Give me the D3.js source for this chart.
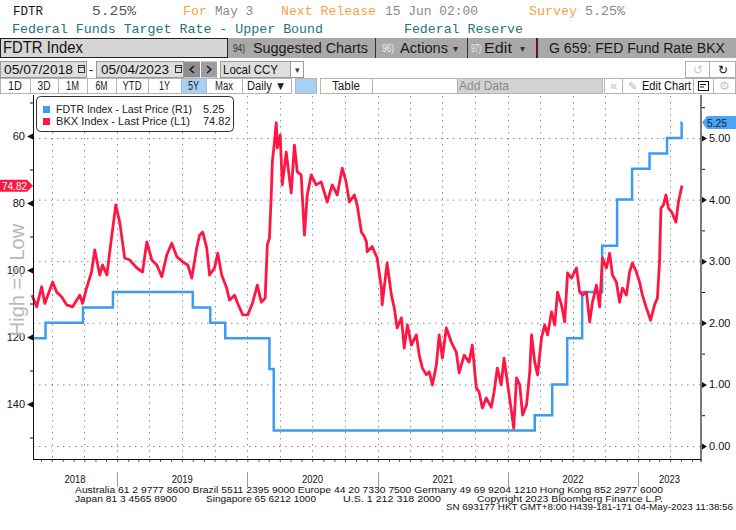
<!DOCTYPE html>
<html>
<head>
<meta charset="utf-8">
<script src="https://cdn.jsdelivr.net/npm/d3@7"></script>
<style>
  body { margin: 0; background: white; }
  svg { display: block; }
  text { font-family: "Liberation Sans", Arial, sans-serif; }
  .mono { font-family: "Liberation Mono", "DejaVu Sans Mono", monospace; font-size: 13px; }
</style>
</head>
<body>
<svg id="chart" width="736" height="530"></svg>
<script>

  // FDTR upper bound, step changes (R1 axis)
  const fdtr = [
    ["2018-05-07", 1.75], ["2018-06-14", 2.00], ["2018-09-27", 2.25], ["2018-12-20", 2.50],
    ["2019-08-01", 2.25], ["2019-09-19", 2.00], ["2019-10-31", 1.75], ["2020-03-03", 1.25],
    ["2020-03-15", 0.25], ["2022-03-17", 0.50], ["2022-05-05", 1.00], ["2022-06-16", 1.75],
    ["2022-07-28", 2.50], ["2022-09-22", 3.25], ["2022-11-03", 4.00], ["2022-12-15", 4.50],
    ["2023-02-02", 4.75], ["2023-03-23", 5.00], ["2023-05-03", 5.25], ["2023-05-04", 5.25]
  ]

  // BKX index (L1 axis, inverted)
  const bkx = [
    ["2018-05-07", 107.5], ["2018-05-20", 111], ["2018-06-03", 105], ["2018-06-12", 110],
    ["2018-07-04", 103.6], ["2018-07-15", 106.6], ["2018-07-29", 108], ["2018-08-12", 110.4],
    ["2018-08-29", 111], ["2018-09-18", 107.5], ["2018-09-26", 110], ["2018-10-07", 105.4],
    ["2018-10-21", 100.6], ["2018-10-30", 94], ["2018-11-13", 101.5], ["2018-11-21", 98.5],
    ["2018-12-03", 101.5], ["2018-12-17", 89.6], ["2018-12-28", 80.6], ["2019-01-08", 85.7],
    ["2019-01-22", 96.4], ["2019-02-05", 97], ["2019-02-25", 99.4], ["2019-03-13", 100.6],
    ["2019-03-25", 91.6], ["2019-04-08", 97], ["2019-04-22", 98.5], ["2019-05-06", 102],
    ["2019-05-20", 95.5], ["2019-06-03", 92], ["2019-06-17", 96], ["2019-07-04", 97.6],
    ["2019-07-18", 98.5], ["2019-07-29", 102.4], ["2019-08-12", 93.4], ["2019-08-20", 89.6],
    ["2019-08-29", 88.7], ["2019-09-09", 93.4], ["2019-09-17", 101.5], ["2019-10-01", 99.4],
    ["2019-10-10", 95], ["2019-10-21", 101.5], ["2019-11-04", 105.4], ["2019-11-12", 109],
    ["2019-11-26", 107.5], ["2019-12-05", 110], ["2019-12-19", 113.4], ["2020-01-02", 113.4],
    ["2020-01-15", 110], ["2020-01-29", 104.5], ["2020-02-09", 109.6], ["2020-02-20", 108.4],
    ["2020-02-26", 92.5], ["2020-03-03", 90.4], ["2020-03-08", 77.6], ["2020-03-11", 67.8],
    ["2020-03-17", 61.8], ["2020-03-22", 56], ["2020-03-25", 63.6], ["2020-04-02", 59.7],
    ["2020-04-08", 74.6], ["2020-04-19", 64.8], ["2020-05-03", 77], ["2020-05-12", 62.7],
    ["2020-05-20", 70.7], ["2020-05-31", 71.6], ["2020-06-09", 89.6], ["2020-06-17", 77.6],
    ["2020-06-28", 71.6], ["2020-07-12", 74.6], ["2020-07-26", 73.7], ["2020-08-12", 79.7],
    ["2020-08-26", 74.6], ["2020-09-09", 77.6], ["2020-09-23", 69.6], ["2020-10-04", 73.7],
    ["2020-10-13", 79.7], ["2020-10-27", 77.6], ["2020-11-04", 80.6], ["2020-11-16", 88.7],
    ["2020-11-24", 90], ["2020-11-30", 91.6], ["2020-12-02", 94.6], ["2020-12-16", 93],
    ["2020-12-30", 96.4], ["2021-01-11", 105.4], ["2021-01-13", 110.4], ["2021-01-27", 97.9],
    ["2021-02-08", 107.5], ["2021-02-16", 111.3], ["2021-02-24", 117.3], ["2021-03-08", 114.3],
    ["2021-03-16", 123.3], ["2021-03-25", 116.4], ["2021-04-05", 122.4], ["2021-04-19", 119.4],
    ["2021-04-27", 125.4], ["2021-05-06", 129.3], ["2021-05-17", 131.3], ["2021-05-25", 130.4],
    ["2021-06-03", 134.3], ["2021-06-14", 128.4], ["2021-06-22", 119.4], ["2021-07-01", 126.3],
    ["2021-07-12", 117.3], ["2021-07-26", 121.5], ["2021-08-09", 124.5], ["2021-08-17", 130.7],
    ["2021-08-31", 125.4], ["2021-09-14", 127.5], ["2021-09-23", 122.4], ["2021-10-04", 135.2],
    ["2021-10-12", 136.4], ["2021-10-21", 141.2], ["2021-11-01", 138.2], ["2021-11-15", 141],
    ["2021-11-23", 136.4], ["2021-12-02", 129.3], ["2021-12-13", 134.3], ["2021-12-21", 126.3],
    ["2021-12-30", 133.4], ["2022-01-11", 142.4], ["2022-01-17", 147.2], ["2022-01-25", 132.2],
    ["2022-02-03", 134.3], ["2022-02-11", 143.3], ["2022-02-22", 140.3], ["2022-03-03", 130.4],
    ["2022-03-08", 119.4], ["2022-03-17", 127.5], ["2022-03-25", 131.3], ["2022-04-05", 120.3],
    ["2022-04-14", 116.4], ["2022-04-22", 119.4], ["2022-05-03", 112.5], ["2022-05-12", 116.4],
    ["2022-05-20", 106.6], ["2022-05-31", 110.4], ["2022-06-09", 115.5], ["2022-06-17", 100.9],
    ["2022-06-28", 102.4], ["2022-07-12", 99.4], ["2022-07-21", 106.6], ["2022-07-29", 107.5],
    ["2022-08-09", 106.6], ["2022-08-18", 115.5], ["2022-08-26", 109.6], ["2022-09-06", 104.5],
    ["2022-09-15", 111], ["2022-09-23", 96.4], ["2022-10-04", 99.4], ["2022-10-13", 95],
    ["2022-10-21", 101.5], ["2022-11-01", 103.6], ["2022-11-10", 109.6], ["2022-11-18", 105.4],
    ["2022-11-29", 107.5], ["2022-12-08", 100.6], ["2022-12-16", 97.9], ["2022-12-27", 100.6],
    ["2023-01-05", 103.6], ["2023-01-13", 107.5], ["2023-01-24", 111.3], ["2023-02-05", 115],
    ["2023-02-16", 110.4], ["2023-02-24", 108.4], ["2023-03-02", 97.6], ["2023-03-06", 81.5],
    ["2023-03-13", 80.6], ["2023-03-20", 77.6], ["2023-03-27", 81.5], ["2023-04-05", 82.7],
    ["2023-04-17", 85.7], ["2023-04-24", 79.7], ["2023-05-04", 74.82]
  ]

  const leftTicks = [60, 80, 100, 120, 140]
  const leftMinor = [50, 70, 90, 110, 130, 150]
  const rightTicks = [0, 1, 2, 3, 4, 5]
  const rightMinor = [0.5, 1.5, 2.5, 3.5, 4.5, 5.5]
  const years = [2018, 2019, 2020, 2021, 2022, 2023]
  const lastFdtr = 5.25
  const lastBkx = 74.82

  const parse = d3.timeParse("%Y-%m-%d")
  const svg = d3.select("#chart")

  const orange = "#f5a345", grey = "#8a8a8a", teal = "#237575"
  const red = "#ff1744", blue = "#3a9cf2"

  function txt(g, x, y, s, o = {}) {
    let t = g.append("text").attr("x", x).attr("y", y).text(s)
      .attr("font-size", o.size || 12).attr("fill", o.fill || "#111")
    if (o.cls) t.attr("class", o.cls)
    if (o.w) t.attr("textLength", o.w).attr("lengthAdjust", "spacingAndGlyphs")
    if (o.anchor) t.attr("text-anchor", o.anchor)
    return t
  }

  function box(g, x, y, w, h, fill, stroke) {
    return g.append("rect").attr("x", x).attr("y", y).attr("width", w).attr("height", h)
      .attr("fill", fill).attr("stroke", stroke || "none")
  }

  function drawHeader() {
    let g = svg.append("g")
    // top ticker lines
    txt(g, 13, 15, "FDTR", { cls: "mono", w: 30 })
    txt(g, 92, 15, "5.25%", { cls: "mono", fill: "#555", w: 44 })
    txt(g, 183, 15, "For", { cls: "mono", fill: orange, w: 24 })
    txt(g, 215, 15, "May 3", { cls: "mono", fill: grey, w: 38 })
    txt(g, 281, 15, "Next Release", { cls: "mono", fill: orange, w: 95 })
    txt(g, 385, 15, "15 Jun 02:00", { cls: "mono", fill: grey, w: 93 })
    txt(g, 529, 15, "Survey", { cls: "mono", fill: orange, w: 48 })
    txt(g, 585, 15, "5.25%", { cls: "mono", fill: grey, w: 40 })
    txt(g, 12, 33, "Federal Funds Target Rate - Upper Bound", { cls: "mono", fill: teal, w: 311 })
    txt(g, 404, 33, "Federal Reserve", { cls: "mono", fill: teal, w: 119 })

    // security / menu bar
    box(g, 228, 38, 508, 20, "#a9a9a9")
    box(g, 0.5, 38.5, 227, 19, "#d6d6d6", "#222")
    txt(g, 3, 53, "FDTR Index", { size: 16, w: 80 })
    txt(g, 233, 52, "94)", { size: 10, fill: "#333", w: 12 })
    txt(g, 253, 53, "Suggested Charts", { size: 15, w: 115, fill: "#1a1a1a" })
    txt(g, 382, 52, "96)", { size: 10, fill: "#eee", w: 12 })
    txt(g, 400, 53, "Actions", { size: 15, w: 48, fill: "#1a1a1a" })
    txt(g, 453, 52, "▾", { size: 10, fill: "#333" })
    txt(g, 471, 52, "97)", { size: 10, fill: "#eee", w: 10 })
    txt(g, 484, 53, "Edit", { size: 15, w: 28, fill: "#1a1a1a" })
    txt(g, 520, 52, "▾", { size: 10, fill: "#333" })
    txt(g, 549, 53, "G 659: FED Fund Rate BKX", { size: 14, w: 176, fill: "#1a1a1a" })
    g.selectAll(".sep").data([375.5, 467.5]).enter().append("line")
      .attr("x1", d => d).attr("x2", d => d).attr("y1", 38).attr("y2", 58).attr("stroke", "#333")
    g.append("line").attr("x1", 537).attr("x2", 537).attr("y1", 38).attr("y2", 58)
      .attr("stroke", "#6a1414").attr("stroke-width", 2)

    // date range row
    box(g, 0.5, 61.5, 86, 16, "#dedede", "#9a9a9a")
    txt(g, 4, 74, "05/07/2018", { size: 13, w: 69 })
    box(g, 96.5, 61.5, 87, 16, "#dedede", "#9a9a9a")
    txt(g, 101, 74, "05/04/2023", { size: 13, w: 68 })
    txt(g, 89, 74, "-", { size: 13 })
    ;[78.5, 175.5].forEach(x => {
      box(g, x, 65.5, 6, 7, "none", "#333")
      g.append("line").attr("x1", x).attr("x2", x + 6).attr("y1", 67.5).attr("y2", 67.5).attr("stroke", "#333")
    })
    box(g, 184, 61.5, 16, 16, "#8e8e8e")
    box(g, 201, 61.5, 16, 16, "#9e9e9e")
    g.append("path").attr("d", "M194,66 L190,69.5 L194,73").attr("fill", "none").attr("stroke", "#111").attr("stroke-width", 1.3)
    g.append("path").attr("d", "M207,66 L211,69.5 L207,73").attr("fill", "none").attr("stroke", "#111").attr("stroke-width", 1.3)
    box(g, 220.5, 61.5, 70, 16, "#dedede", "#9a9a9a")
    txt(g, 223, 74, "Local CCY", { size: 13, w: 55 })
    box(g, 290.5, 61.5, 13, 16, "#fff", "#9a9a9a")
    txt(g, 297, 73, "▾", { size: 9, anchor: "middle", fill: "#333" })
    box(g, 685.5, 61.5, 24, 16, "#fff", "#b0b0b0")
    box(g, 709.5, 61.5, 26, 16, "#fff", "#b0b0b0")
    txt(g, 697.5, 74, "↺", { size: 12, anchor: "middle", fill: "#c8c8c8" })
    txt(g, 722.5, 74, "↻", { size: 12, anchor: "middle", fill: "#111" })

    // period buttons row
    let buttons = [
      ["1D", 0, 30, 14], ["3D", 30, 58, 13], ["1M", 58, 87, 13], ["6M", 87, 116, 12],
      ["YTD", 116, 148, 19], ["1Y", 148, 181, 11], ["5Y", 181, 206, 11], ["Max", 206, 242, 18],
      ["Daily ▼", 242, 291, 39], ["", 295, 316, 0], ["Table", 320, 372, 28], ["", 372, 457, 0]
    ]
    buttons.forEach(([label, a, b, w]) => {
      let on = label === "5Y" || a === 295
      box(g, a + 0.5, 78.5, b - a, 15, on ? "#a8d0f5" : "#fff", "#b4b4b4")
      if (label) txt(g, (a + b) / 2, 89.5, label, { size: 12, anchor: "middle", w, fill: "#222" })
    })
    box(g, 457.5, 78.5, 145, 15, "#d2d2d2", "#b4b4b4")
    txt(g, 459, 89.5, "Add Data", { size: 13, w: 50, fill: "#8a8a8a" })
    box(g, 604.5, 78.5, 18, 15, "#fff", "#b4b4b4")
    txt(g, 613.5, 89.5, "«", { size: 13, anchor: "middle", fill: "#c0c0c0" })
    box(g, 622.5, 78.5, 71, 15, "#fff", "#b4b4b4")
    txt(g, 628, 90, "✎", { size: 11, fill: "#bbb" })
    txt(g, 642, 89.5, "Edit Chart", { size: 12, w: 49, fill: "#111" })
    box(g, 693.5, 78.5, 20, 15, "#fff", "#b4b4b4")
    box(g, 698.5, 81.5, 10, 9, "#fff", "#111")
    g.append("path").attr("d", "M700,84.5h6M700,87h4").attr("stroke", "#111")
    box(g, 713.5, 78.5, 22, 15, "#fff", "#b4b4b4")
    txt(g, 724.5, 90, "⚙", { size: 12, anchor: "middle", fill: "#c8c8c8" })
  }

  function getConfig() {
    let plot = { left: 33, right: 701, top: 95, bottom: 459 }
    let x = d3.scaleTime()
      .domain([parse("2018-05-07"), parse("2023-05-04")])
      .range([32, 682])
    // left axis is inverted: "High => Low"
    let yL = d3.scaleLinear().domain([60, 140]).range([136, 404])
    let yR = d3.scaleLinear().domain([0, 5]).range([446, 138])
    return { plot, x, yL, yR }
  }

  function drawGrid(cfg) {
    let { plot, x, yR } = cfg
    let g = svg.append("g")
    let quarters = d3.timeMonth.every(3).range(parse("2018-07-01"), x.invert(plot.right))
    g.selectAll(".vg").data(quarters).enter().append("line")
      .attr("x1", d => Math.round(x(d)) + 0.5).attr("x2", d => Math.round(x(d)) + 0.5)
      .attr("y1", plot.top + 1).attr("y2", plot.bottom)
      .attr("stroke", "#8c8c8c").attr("stroke-dasharray", "1.5,4.5")
    g.selectAll(".hg").data(rightTicks).enter().append("line")
      .attr("x1", plot.left).attr("x2", plot.right)
      .attr("y1", d => yR(d) + 0.5).attr("y2", d => yR(d) + 0.5)
      .attr("stroke", "#8c8c8c").attr("stroke-dasharray", "1.5,4.5")
  }

  function drawLines(cfg) {
    let { x, yL, yR } = cfg
    let fd = fdtr.map(d => ({ date: parse(d[0]), v: d[1] }))
    let bk = bkx.map(d => ({ date: parse(d[0]), v: d[1] }))

    svg.append("path").datum(fd)
      .attr("d", d3.line().curve(d3.curveStepAfter).x(d => x(d.date)).y(d => yR(d.v)))
      .attr("fill", "none").attr("stroke", blue).attr("stroke-width", 2.5)

    svg.append("path").datum(bk)
      .attr("d", d3.line().x(d => x(d.date)).y(d => yL(d.v)))
      .attr("fill", "none").attr("stroke", red).attr("stroke-width", 2.8)
      .attr("stroke-linejoin", "round")
  }

  function styleAxis(g) {
    g.selectAll(".domain").remove()
    g.selectAll(".tick text").attr("font-size", 11).attr("fill", "#111")
      .attr("font-family", "Liberation Sans, Arial")
    g.selectAll(".tick line").attr("stroke", "#111")
  }

  function drawAxes(cfg) {
    let { plot, x, yL, yR } = cfg

    // left axis (BKX, inverted)
    let left = svg.append("g").attr("transform", `translate(${plot.left},0)`)
      .call(d3.axisLeft(yL).tickValues(leftTicks).tickSize(0).tickPadding(8).tickFormat(d3.format("d")))
    let leftM = svg.append("g").attr("transform", `translate(${plot.left},0)`)
      .call(d3.axisLeft(yL).tickValues(leftMinor).tickSize(3).tickFormat(""))
    styleAxis(left)
    styleAxis(leftM)
    left.selectAll(".tick").append("path").attr("d", "M0,-3L0,3L-6,0Z").attr("fill", "#111")
    svg.append("line").attr("x1", plot.left + 0.5).attr("x2", plot.left + 0.5)
      .attr("y1", plot.top).attr("y2", plot.bottom + 1).attr("stroke", "#111")

    // right axis (FDTR)
    let right = svg.append("g").attr("transform", `translate(${plot.right},0)`)
      .call(d3.axisRight(yR).tickValues(rightTicks).tickSize(0).tickPadding(8).tickFormat(d3.format(".2f")))
    let rightM = svg.append("g").attr("transform", `translate(${plot.right},0)`)
      .call(d3.axisRight(yR).tickValues(rightMinor).tickSize(4).tickFormat(""))
    styleAxis(right)
    styleAxis(rightM)
    right.selectAll(".tick").append("path").attr("d", "M1,-3L1,3L6,0Z").attr("fill", "#111")
    svg.append("line").attr("x1", plot.right).attr("x2", plot.right)
      .attr("y1", plot.top).attr("y2", plot.bottom + 3).attr("stroke", "#7a7a7a").attr("stroke-width", 2)

    // bottom axis: monthly ticks, year labels
    let months = d3.timeMonth.every(1).range(parse("2018-06-01"), x.invert(plot.right))
    let bottom = svg.append("g").attr("transform", `translate(0,${plot.bottom})`)
      .call(d3.axisBottom(x).tickValues(months).tickSize(3).tickFormat(""))
    styleAxis(bottom)
    bottom.selectAll(".tick line").attr("stroke", "#555")
    svg.append("line").attr("x1", plot.left).attr("x2", plot.right)
      .attr("y1", plot.bottom + 0.5).attr("y2", plot.bottom + 0.5).attr("stroke", "#111")

    let yg = svg.append("g")
    years.forEach(yr => {
      let a = Math.max(x(new Date(yr, 0, 1)), plot.left)
      let b = Math.min(x(new Date(yr + 1, 0, 1)), plot.right)
      txt(yg, (a + b) / 2, 483, String(yr), { size: 11, anchor: "middle", w: 21, fill: "#111" })
      if (yr > years[0]) {
        let xs = Math.round(x(new Date(yr, 0, 1))) + 0.5
        yg.append("line").attr("x1", xs).attr("x2", xs).attr("y1", 472).attr("y2", 487).attr("stroke", "#9a9a9a")
      }
    })

    // High => Low side title
    svg.append("text").attr("transform", "translate(24,280) rotate(-90)")
      .attr("text-anchor", "middle").attr("font-size", 20).attr("fill", "#b8b8b8")
      .text("High => Low")
  }

  function drawLabels(cfg) {
    let { yL, yR } = cfg
    // last value flags
    let yb = yL(lastBkx)
    svg.append("path").attr("d", `M0,${yb - 6}H27L33,${yb}L27,${yb + 6}H0Z`).attr("fill", red)
    txt(svg, 2, yb + 4, d3.format(".2f")(lastBkx), { size: 11, fill: "#fff", w: 25 })
    let yf = yR(lastFdtr)
    svg.append("path").attr("d", `M736,${yf - 6.5}H707L702,${yf}L707,${yf + 6.5}H736Z`).attr("fill", "#4ba6f2")
    txt(svg, 707, yf + 4, d3.format(".2f")(lastFdtr), { size: 11, fill: "#13233f", w: 20 })

    // legend
    let lg = svg.append("g")
    lg.append("rect").attr("x", 36.5).attr("y", 96.5).attr("width", 197).attr("height", 35)
      .attr("rx", 4).attr("fill", "#fff").attr("stroke", "#333")
    let rows = [
      [blue, "FDTR Index - Last Price (R1)", 136, d3.format(".2f")(lastFdtr)],
      [red, "BKX Index - Last Price (L1)", 134, d3.format(".2f")(lastBkx)]
    ]
    rows.forEach(([c, label, w, v], i) => {
      let y = 113 + i * 12
      lg.append("rect").attr("x", 43).attr("y", y - 7).attr("width", 7).attr("height", 7).attr("fill", c)
      txt(lg, 56, y, label, { size: 11, w, fill: "#222" })
      txt(lg, 203, y, v, { size: 11, fill: "#222" })
    })
  }

  function drawFooter() {
    let g = svg.append("g")
    let o = { size: 8.5, fill: "#111" }
    txt(g, 75, 493, "Australia 61 2 9777 8600 Brazil 5511 2395 9000 Europe 44 20 7330 7500 Germany 49 69 9204 1210 Hong Kong 852 2977 6000", { ...o, w: 588 })
    txt(g, 75, 501.5, "Japan 81 3 4565 8900", { ...o, w: 102 })
    txt(g, 206, 501.5, "Singapore 65 6212 1000", { ...o, w: 110 })
    txt(g, 343, 501.5, "U.S. 1 212 318 2000", { ...o, w: 98 })
    txt(g, 477, 501.5, "Copyright 2023 Bloomberg Finance L.P.", { ...o, w: 186 })
    txt(g, 446, 510, "SN 693177 HKT  GMT+8:00 H439-181-171 04-May-2023 11:38:56", { ...o, w: 287 })
  }

  drawHeader()
  let cfg = getConfig()
  drawGrid(cfg)
  drawLines(cfg)
  drawAxes(cfg)
  drawLabels(cfg)
  drawFooter()

</script>
</body>
</html>
